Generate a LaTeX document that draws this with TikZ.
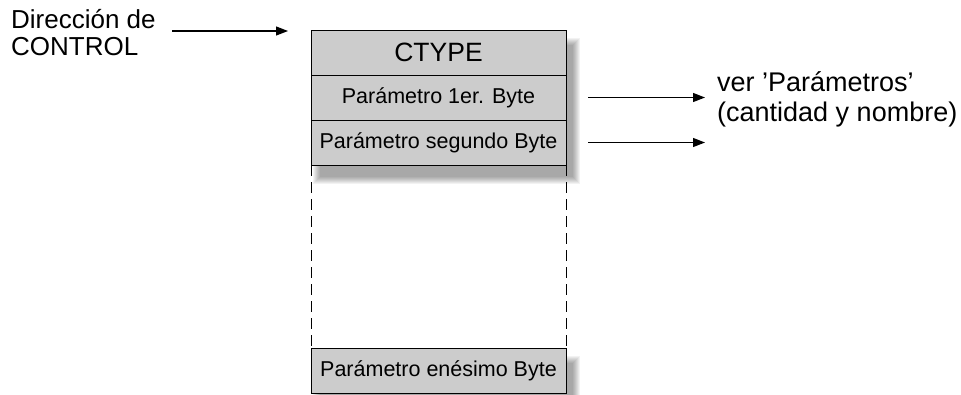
\documentclass[tikz,border=0pt]{standalone}
\usepackage{fontspec}
\setmainfont{Liberation Sans}
\usetikzlibrary{arrows.meta,positioning,calc}

\begin{document}
\begin{tikzpicture}[
  x=1pt, y=-1pt,
  rowbox/.style={draw=black,fill=gray!40,line width=0.9pt,minimum width=255pt,
                 minimum height=45pt,inner sep=0pt,outer sep=0pt,
                 font=\fontsize{21.5}{24}\selectfont},
  topbox/.style={rowbox,font=\fontsize{26.5}{29}\selectfont},
  lbl/.style={align=left,inner sep=0pt},
  sig/.style={-{Triangle[length=12pt,width=9pt]},draw=black,line width=1.2pt},
  gap/.style={draw=black,line width=0.9pt,dash pattern=on 11pt off 6pt}]

\useasboundingbox (0,0) rectangle (961,394);

% shadows behind the boxes
\foreach \k in {0,...,7}
  \fill[black,opacity=0.05] (313+\k,38+\k) rectangle (580-\k,184-\k);
\foreach \k in {0,...,7}
  \fill[black,opacity=0.05] (313+\k,356+\k) rectangle (580-\k,402-\k);

% byte stack
\node[topbox] (ctype) at (438.5,52.5) {CTYPE};
\node[rowbox,below=0pt of ctype] (p1) {Parámetro 1er. Byte};
\node[rowbox,below=0pt of p1] (p2) {Parámetro segundo Byte};
\node[rowbox] (pn) at (438.5,370.5) {Parámetro enésimo Byte};

\draw[gap] (p2.south west) -- (pn.north west);
\draw[gap] (p2.south east) -- (pn.north east);

% labels
\node[lbl,anchor=north west,font=\fontsize{26}{27}\selectfont] (dir) at (11,9)
  {Dirección de\\CONTROL};
\node[lbl,anchor=north west,font=\fontsize{27}{30}\selectfont] (ver) at (717,71)
  {ver 'Parámetros'\\(cantidad y nombre)};

\coordinate (dirA) at (172,31);
\coordinate (dirB) at (288,31);
\draw[sig] (dirA) -- (dirB);
\draw[sig] ([xshift=22pt]p1.east) -- ++(117,0);
\draw[sig] ([xshift=22pt]p2.east) -- ++(117,0);

\end{tikzpicture}
\end{document}
